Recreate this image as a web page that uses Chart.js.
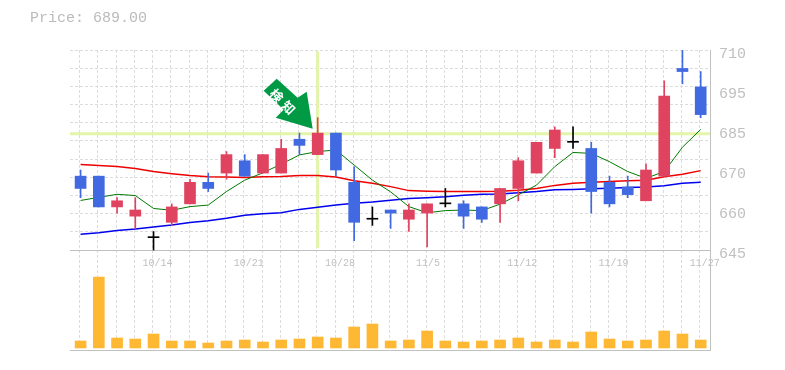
<!DOCTYPE html>
<html lang="en">
<head>
  <meta charset="UTF-8">
  <title>Price chart</title>
  <script src="https://cdn.jsdelivr.net/npm/chart.js"></script>
  <style>
    body { margin: 0; background: #fff; }
    #wrap { position: relative; width: 785px; height: 370px; }
    #price { position: absolute; left: 30px; top: 10px; font: 15px "Liberation Mono", monospace; color: #bbb; }
  </style>
</head>
<body>
  <div id="wrap">
    <div id="price">Price: 689.00</div>
    <canvas id="chart" width="785" height="370"></canvas>
  </div>

  <script>
    const opens  = [669,669,659,656,649,654,660,667,670,674,670,670,681,676,683,667,655,658,655,657,660,660,659,660,665,670,678,680,678,667,665.5,661,669,704,698];
    const closes = [665,659,661,658,649,659,667,665,676,669,676,678,679,683,671,654,655,657,658,660,660,656,655,665,674,680,684,680,664,660,663,671,695,703,689];
    const highs  = [671,669,662,662,651,660,668,670,677,676,676,681,683,688,683,672,659,658,660,660,665,661,659,665,675,680,685,685,680,669,669,673,700,712,703];
    const lows   = [662,659,657,652,645,653,660,664,668,669,670,670,676,676,669,648,653,652,651,646,659,652,654,654,661,670,675,678,657,659,662,661,669,699,688];

    const ma5  = [661.1,662.1,663.1,662.7,658.5,657.9,659.1,659.6,664,667.7,670.1,672.9,675.9,677,677.5,672.6,667.7,663.9,659.1,657.1,657.8,658,657.8,659.9,662.9,666.1,672.1,676.7,676.4,673.7,670.5,668.3,670.5,678.4,684.2];
    const ma25 = [672.8,672.5,672.1,671.5,670.5,669.8,669.2,668.8,668.7,668.6,668.8,668.9,669.2,669.2,668.7,667.5,666.7,665.6,664.3,664.1,664,664,664,664.1,664.4,665,666,666.7,667,667.3,667.5,667.7,668.8,669.6,670.8];
    const ma75 = [650.1,650.6,651.3,651.8,652.5,653.1,653.9,654.5,655.3,656.3,656.8,657.1,658.2,658.9,659.6,660.2,660.6,661.2,661.7,662,662.3,662.8,663.1,663.2,663.6,664,664.6,664.7,664.9,665.1,665.3,665.5,665.9,666.7,667];

    const volumes = [7,71,10,9,14,7,7,5,7,8,6,8,9,11,10,21,24,7,8,17,7,6,7,8,10,6,8,6,16,9,7,8,17,14,8];

    const dateLabels = { 4: '10/14', 9: '10/21', 14: '10/28', 19: '11/5', 24: '11/12', 29: '11/19', 34: '11/27' };
    const priceTicks = [710, 697, 684, 671, 658, 645];
    const priceLabels = ['710', '695', '685', '670', '660', '645'];

    const markPrice = 682.8;
    const markIndex = 13;

    const RED = '#e04360', BLUE = '#4169e1', GREY = '#c0c0c0', LIGHT = '#e3f5a8';
    const xMin = -0.58, xMax = 34.51;
    const days = opens.map((_, i) => i);
    const candleColor = i => closes[i] > opens[i] ? RED : closes[i] < opens[i] ? BLUE : '#000';
    const lineData = arr => arr.map((v, i) => ({ x: i, y: v }));

    // green arrow pointing at the marked candle
    const arrowPlugin = {
      id: 'arrow',
      afterDatasetsDraw(chart) {
        const { ctx, scales } = chart;
        const tx = scales.x.getPixelForValue(markIndex) - 5;
        const ty = scales.y.getPixelForValue(markPrice) - 5;
        const pts = [[-49, -38], [-36, -50], [-15, -31], [-6, -37], [0, 0], [-37, -11], [-29, -19]];
        ctx.save();
        ctx.translate(tx, ty);
        ctx.fillStyle = '#009a44';
        ctx.beginPath();
        pts.forEach((p, i) => i ? ctx.lineTo(p[0], p[1]) : ctx.moveTo(p[0], p[1]));
        ctx.closePath();
        ctx.fill();
        ctx.translate(-30, -27);
        ctx.rotate(Math.PI / 4);
        ctx.fillStyle = '#fff';
        ctx.font = 'bold 13px "Noto Sans CJK JP"';
        ctx.letterSpacing = '4px';
        ctx.textAlign = 'center';
        ctx.textBaseline = 'middle';
        ctx.fillText('検知', 2, 0);
        ctx.restore();
      }
    };

    new Chart(document.getElementById('chart'), {
      data: {
        datasets: [
          { type: 'line', order: 10, data: [{ x: xMin, y: markPrice }, { x: xMax, y: markPrice }], borderColor: LIGHT, borderWidth: 3, pointRadius: 0 },
          { type: 'line', order: 10, data: [{ x: markIndex, y: 709.5 }, { x: markIndex, y: 645.6 }], borderColor: LIGHT, borderWidth: 3, pointRadius: 0 },
          { type: 'line', order: 5, data: lineData(ma75), borderColor: '#0000ee', borderWidth: 1.5, pointRadius: 0 },
          { type: 'line', order: 5, data: lineData(ma25), borderColor: '#ee0000', borderWidth: 1.5, pointRadius: 0 },
          { type: 'line', order: 4, data: lineData(ma5), borderColor: '#007a00', borderWidth: 1, pointRadius: 0 },
          { type: 'bar', order: 2, data: days.map(i => ({ x: i, y: [lows[i], highs[i]] })), backgroundColor: days.map(candleColor), barThickness: 1, grouped: false },
          { type: 'bar', order: 1, data: days.map(i => ({ x: i, y: [opens[i], closes[i]] })), backgroundColor: days.map(candleColor), barThickness: 11, minBarLength: 1, grouped: false },
          { type: 'bar', order: 1, yAxisID: 'yVol', data: days.map(i => ({ x: i, y: volumes[i] })), backgroundColor: '#ffb833', barThickness: 11, grouped: false }
        ]
      },
      options: {
        responsive: false,
        animation: false,
        layout: { padding: { top: 50, left: 70, right: 0, bottom: 0 } },
        plugins: { legend: { display: false }, tooltip: { enabled: false } },
        scales: {
          x: {
            type: 'linear',
            offset: false,
            min: xMin,
            max: xMax,
            position: { y: 645 },
            afterBuildTicks: s => { s.ticks = days.map(i => ({ value: i - 0.55 })); },
            grid: { color: '#dcdcdc', drawTicks: false },
            border: { color: GREY, dash: [3, 2], width: 1 },
            ticks: {
              autoSkip: false, maxRotation: 0, align: 'start', padding: 7, labelOffset: -1,
              font: { family: '"Liberation Mono", monospace', size: 10 }, color: GREY,
              callback: (v, i) => dateLabels[i] || ''
            }
          },
          xBottom: {
            type: 'linear', offset: false, min: xMin, max: xMax, position: 'bottom',
            grid: { display: false },
            ticks: { display: false },
            border: { color: GREY, width: 1 },
            afterFit: s => { s.height = 20; }
          },
          y: {
            type: 'linear',
            min: 612.5,
            max: 710,
            position: 'right',
            afterBuildTicks: s => { s.ticks = priceTicks.map(v => ({ value: v })); },
            afterFit: s => { s.width = 75; },
            grid: { display: false, drawTicks: false },
            border: { color: GREY, width: 1 },
            ticks: {
              padding: 9, labelOffset: 4,
              font: { family: '"Liberation Mono", monospace', size: 15 }, color: GREY,
              callback: (v, i) => priceLabels[i]
            }
          },
          yGrid: {
            type: 'linear',
            min: 612.5,
            max: 710,
            position: 'right',
            afterBuildTicks: s => { s.ticks = Array.from({ length: 11 }, (_, k) => ({ value: 710 - k * 65 / 11 })); },
            afterFit: s => { s.width = 0; },
            grid: { color: '#dcdcdc', drawTicks: false },
            border: { display: false, dash: [3, 2] },
            ticks: { display: false }
          },
          yVol: { type: 'linear', display: false, min: -2, max: 298 }
        }
      },
      plugins: [arrowPlugin]
    });
  </script>
</body>
</html>
